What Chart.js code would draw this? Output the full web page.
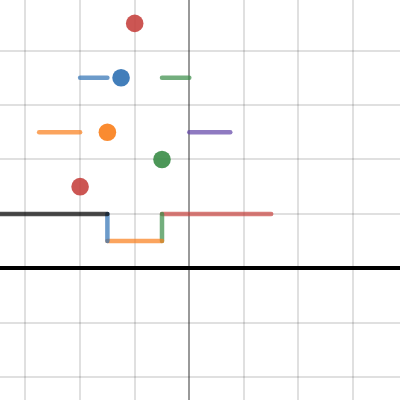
<!DOCTYPE html>
<html>
<head>
<meta charset="utf-8">
<script src="https://cdn.jsdelivr.net/npm/chart.js@4/dist/chart.umd.min.js"></script>
<style>
  html, body { margin: 0; padding: 0; background: #fff; }
  canvas { display: block; }
</style>
</head>
<body>
<canvas id="c" width="400" height="400"></canvas>
<script>
// Visible window of the coordinate plane
const xRange = [-3.467, 3.859];
const yRange = [-2.42, 4.93];

// Integer grid lines
const gridX = [-3, -2, -1, 0, 1, 2, 3];
const gridY = [-2, -1, 0, 1, 2, 3, 4];

// Points
const dotX = [-1, -1.25, -1.5, -0.5, -2];
const dotY = [4.5, 3.5, 2.5, 2, 1.5];
const dotSeries = ['red', 'blue', 'orange', 'green', 'red'];

// Segments: start and end coordinates
const segX1 = [-2, -0.5, -2.75, 0, -4, -1.5, -1.5, -0.5, -0.5];
const segY1 = [3.5, 3.5, 2.5, 2.5, 1, 1, 0.5, 0.5, 1];
const segX2 = [-1.5, 0, -2, 0.75, -1.5, -1.5, -0.5, -0.5, 1.5];
const segY2 = [3.5, 3.5, 2.5, 2.5, 1, 0.5, 0.5, 1, 1];
const segSeries = ['blue', 'green', 'orange', 'purple', 'black', 'blue', 'orange', 'green', 'red'];

// Palette
const palette = {
  red: [199, 68, 64],
  blue: [45, 112, 179],
  green: [56, 140, 70],
  orange: [250, 126, 25],
  purple: [96, 66, 166],
  black: [0, 0, 0]
};
const rgba = (name, a) => 'rgba(' + palette[name].join(',') + ',' + a + ')';

const datasets = [];

dotX.forEach((x, i) => {
  datasets.push({
    data: [{ x: x, y: dotY[i] }],
    pointRadius: 8.8,
    pointHoverRadius: 8.8,
    pointBorderWidth: 0,
    pointBackgroundColor: rgba(dotSeries[i], 0.9),
    showLine: false
  });
});

segX1.forEach((x, i) => {
  datasets.push({
    data: [{ x: x, y: segY1[i] }, { x: segX2[i], y: segY2[i] }],
    showLine: true,
    pointRadius: 0,
    borderWidth: 4.5,
    borderColor: rgba(segSeries[i], 0.7),
    borderCapStyle: 'round',
    borderJoinStyle: 'round'
  });
});

const fixedTicks = (values) => (scale) => {
  scale.ticks = values.map(v => ({ value: v }));
};

new Chart(document.getElementById('c'), {
  type: 'scatter',
  data: { datasets: datasets },
  options: {
    responsive: false,
    animation: false,
    layout: { padding: 0, autoPadding: false },
    plugins: { legend: { display: false }, tooltip: { enabled: false } },
    events: [],
    scales: {
      x: {
        type: 'linear',
        min: xRange[0],
        max: xRange[1],
        afterBuildTicks: fixedTicks(gridX),
        ticks: { display: false },
        border: { display: false },
        grid: {
          drawTicks: false,
          lineWidth: 2,
          color: ctx => ctx.tick && ctx.tick.value === 0 ? 'rgba(0,0,0,0.4)' : 'rgba(0,0,0,0.12)'
        }
      },
      y: {
        type: 'linear',
        min: yRange[0],
        max: yRange[1],
        afterBuildTicks: fixedTicks(gridY),
        ticks: { display: false },
        border: { display: false },
        grid: {
          drawTicks: false,
          lineWidth: ctx => ctx.tick && ctx.tick.value === 0 ? 4 : 2,
          color: ctx => ctx.tick && ctx.tick.value === 0 ? '#000' : 'rgba(0,0,0,0.12)'
        }
      }
    }
  }
});
</script>
</body>
</html>
